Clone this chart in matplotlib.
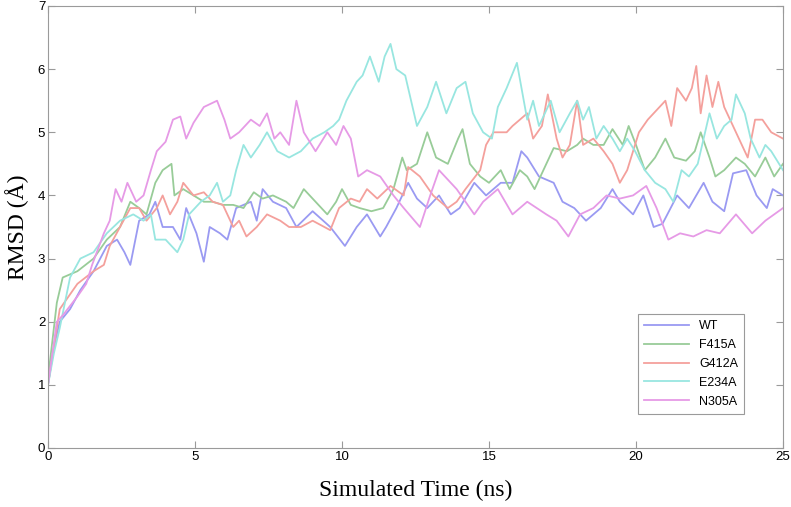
import numpy as np
import matplotlib
matplotlib.use('Agg')
import matplotlib.pyplot as plt

# RMSD traces (time in ns, RMSD in Angstrom)
wt_t = [0, 0.2, 0.4, 0.75, 1.1, 1.55, 2.0, 2.35, 2.6, 2.8, 3.1, 3.45, 3.65, 3.9, 4.25, 4.5, 4.7, 5.05, 5.3, 5.5,
        5.85, 6.1, 6.4, 6.9, 7.1, 7.3, 7.65, 8.1, 8.45, 9.0, 9.6, 10.1, 10.5, 10.85, 11.3, 11.5, 11.85, 12.25, 12.55, 12.9,
        13.3, 13.7, 14.0, 14.5, 14.9, 15.4, 15.8, 16.1, 16.3, 16.7, 17.2, 17.5, 17.9, 18.3, 18.8, 19.2, 19.45, 19.9, 20.25, 20.6,
        20.9, 21.4, 21.8, 22.3, 22.6, 23.0, 23.3, 23.75, 24.1, 24.45, 24.65, 25.0]
wt_v = [1.0, 1.6, 2.0, 2.2, 2.5, 2.8, 3.2, 3.3, 3.1, 2.9, 3.6, 3.7, 3.9, 3.5, 3.5, 3.3, 3.8, 3.4, 2.95, 3.5,
        3.4, 3.3, 3.8, 3.9, 3.6, 4.1, 3.9, 3.8, 3.5, 3.75, 3.5, 3.2, 3.5, 3.7, 3.35, 3.5, 3.8, 4.2, 3.95, 3.8,
        4.0, 3.7, 3.8, 4.2, 4.0, 4.2, 4.2, 4.7, 4.6, 4.3, 4.2, 3.9, 3.8, 3.6, 3.8, 4.1, 3.9, 3.7, 4.0, 3.5,
        3.55, 4.0, 3.8, 4.2, 3.9, 3.75, 4.35, 4.4, 4.0, 3.8, 4.1, 4.0]

f415a_t = [0, 0.3, 0.5, 1.0, 1.55, 2.0, 2.45, 2.8, 3.1, 3.35, 3.65, 3.9, 4.2, 4.3, 4.6, 4.95, 5.3, 5.6, 5.95, 6.3,
           6.65, 7.0, 7.3, 7.65, 8.1, 8.35, 8.7, 9.1, 9.5, 9.8, 10.0, 10.3, 10.6, 11.0, 11.4, 11.75, 12.05, 12.2, 12.55, 12.9,
           13.2, 13.6, 13.95, 14.1, 14.35, 14.7, 15.0, 15.4, 15.7, 16.05, 16.3, 16.55, 16.85, 17.2, 17.65, 18.0, 18.2, 18.55, 18.9, 19.2,
           19.55, 19.75, 20.0, 20.3, 20.65, 21.0, 21.3, 21.7, 22.0, 22.2, 22.5, 22.7, 23.0, 23.4, 23.7, 24.05, 24.4, 24.7, 25.0]
f415a_v = [1.1, 2.3, 2.7, 2.8, 3.0, 3.3, 3.5, 3.9, 3.8, 3.7, 4.2, 4.4, 4.5, 4.0, 4.1, 4.0, 3.9, 3.9, 3.85, 3.85,
           3.8, 4.05, 3.95, 4.0, 3.9, 3.8, 4.1, 3.9, 3.7, 3.9, 4.1, 3.85, 3.8, 3.75, 3.8, 4.1, 4.6, 4.4, 4.5, 5.0,
           4.6, 4.5, 4.9, 5.05, 4.5, 4.3, 4.2, 4.4, 4.1, 4.4, 4.3, 4.1, 4.4, 4.75, 4.7, 4.8, 4.9, 4.8, 4.8, 5.05,
           4.8, 5.1, 4.8, 4.4, 4.6, 4.9, 4.6, 4.55, 4.7, 5.0, 4.6, 4.3, 4.4, 4.6, 4.5, 4.3, 4.6, 4.3, 4.5]

g412a_t = [0, 0.4, 1.0, 1.55, 1.9, 2.1, 2.45, 2.8, 3.1, 3.35, 3.7, 3.9, 4.15, 4.4, 4.6, 4.95, 5.3, 5.6, 5.95, 6.3,
           6.5, 6.75, 7.1, 7.45, 7.9, 8.2, 8.6, 9.0, 9.6, 9.9, 10.3, 10.6, 10.85, 11.2, 11.65, 12.1, 12.25, 12.65, 13.1, 13.6,
           13.9, 14.2, 14.7, 14.9, 15.15, 15.6, 15.8, 16.05, 16.3, 16.5, 16.8, 17.0, 17.3, 17.5, 17.75, 18.0, 18.2, 18.55, 18.9, 19.2,
           19.45, 19.7, 20.1, 20.4, 20.8, 21.0, 21.2, 21.4, 21.7, 21.9, 22.05, 22.2, 22.4, 22.6, 22.8, 23.0, 23.3, 23.6, 23.8, 24.05,
           24.3, 24.6, 25.0]
g412a_v = [1.0, 2.2, 2.6, 2.8, 2.9, 3.2, 3.5, 3.8, 3.8, 3.6, 3.8, 4.0, 3.7, 3.9, 4.2, 4.0, 4.05, 3.9, 3.85, 3.5,
           3.6, 3.35, 3.5, 3.7, 3.6, 3.5, 3.5, 3.6, 3.45, 3.8, 3.95, 3.9, 4.1, 3.95, 4.15, 4.0, 4.45, 4.3, 4.0, 3.8,
           3.9, 4.1, 4.4, 4.8, 5.0, 5.0, 5.1, 5.2, 5.3, 4.9, 5.1, 5.6, 4.9, 4.6, 4.8, 5.5, 4.8, 4.9, 4.7, 4.5,
           4.2, 4.4, 5.0, 5.2, 5.4, 5.5, 5.1, 5.7, 5.5, 5.7, 6.05, 5.3, 5.9, 5.4, 5.8, 5.4, 5.1, 4.8, 4.6, 5.2,
           5.2, 5.0, 4.9]

e234a_t = [0, 0.2, 0.4, 0.75, 1.1, 1.55, 2.0, 2.45, 2.9, 3.25, 3.5, 3.65, 4.0, 4.4, 4.6, 4.8, 5.2, 5.5, 5.75, 5.95,
           6.2, 6.4, 6.65, 6.9, 7.2, 7.45, 7.8, 8.2, 8.6, 9.0, 9.4, 9.7, 9.9, 10.15, 10.5, 10.7, 10.95, 11.25, 11.45, 11.65,
           11.85, 12.15, 12.4, 12.55, 12.9, 13.2, 13.55, 13.9, 14.2, 14.45, 14.8, 15.1, 15.3, 15.6, 15.95, 16.3, 16.5, 16.7, 17.1, 17.4,
           17.75, 18.0, 18.2, 18.4, 18.65, 18.9, 19.2, 19.45, 19.7, 19.97, 20.3, 20.65, 21.0, 21.27, 21.55, 21.8, 22.1, 22.35, 22.5, 22.75,
           23.0, 23.25, 23.4, 23.7, 23.9, 24.2, 24.4, 24.6, 25.0]
e234a_v = [1.0, 1.5, 1.9, 2.7, 3.0, 3.1, 3.4, 3.6, 3.7, 3.6, 3.7, 3.3, 3.3, 3.1, 3.3, 3.7, 3.9, 4.0, 4.2, 3.9,
           4.0, 4.4, 4.8, 4.6, 4.8, 5.0, 4.7, 4.6, 4.7, 4.9, 5.0, 5.1, 5.2, 5.5, 5.8, 5.9, 6.2, 5.8, 6.2, 6.4,
           6.0, 5.9, 5.4, 5.1, 5.4, 5.8, 5.3, 5.7, 5.8, 5.3, 5.0, 4.9, 5.4, 5.7, 6.1, 5.2, 5.5, 5.1, 5.5, 5.0,
           5.3, 5.5, 5.2, 5.4, 4.9, 5.1, 4.9, 4.7, 4.9, 4.7, 4.4, 4.2, 4.1, 3.9, 4.4, 4.3, 4.5, 5.0, 5.3, 4.9,
           5.1, 5.2, 5.6, 5.3, 4.9, 4.6, 4.8, 4.7, 4.4]

n305a_t = [0, 0.3, 0.5, 1.0, 1.3, 1.5, 1.9, 2.1, 2.3, 2.5, 2.7, 3.0, 3.25, 3.5, 3.7, 4.0, 4.25, 4.5, 4.7, 4.95,
           5.3, 5.75, 6.0, 6.2, 6.5, 6.9, 7.2, 7.45, 7.7, 7.9, 8.2, 8.45, 8.7, 9.1, 9.5, 9.8, 10.05, 10.3, 10.55, 10.85,
           11.3, 11.75, 12.1, 12.65, 13.0, 13.3, 13.9, 14.5, 14.8, 15.3, 15.8, 16.3, 16.95, 17.3, 17.7, 18.1, 18.55, 19.0, 19.45, 19.9,
           20.35, 20.7, 21.1, 21.5, 21.95, 22.4, 22.85, 23.4, 23.95, 24.4, 25.0]
n305a_v = [1.0, 2.0, 2.1, 2.4, 2.6, 2.9, 3.4, 3.6, 4.1, 3.9, 4.2, 3.9, 4.0, 4.4, 4.7, 4.85, 5.2, 5.25, 4.9, 5.15,
           5.4, 5.5, 5.2, 4.9, 5.0, 5.2, 5.1, 5.3, 4.9, 5.0, 4.8, 5.5, 5.0, 4.7, 5.0, 4.8, 5.1, 4.9, 4.3, 4.4,
           4.3, 4.0, 3.8, 3.5, 4.0, 4.4, 4.1, 3.7, 3.9, 4.1, 3.7, 3.9, 3.7, 3.6, 3.35, 3.7, 3.8, 4.0, 3.95, 4.0,
           4.15, 3.8, 3.3, 3.4, 3.35, 3.45, 3.4, 3.7, 3.4, 3.6, 3.8]

names = ['WT', 'F415A', 'G412A', 'E234A', 'N305A']
colors = ['#9a9af2', '#98cc98', '#f4a09c', '#98e6e0', '#e69ae6']

fig = plt.figure(figsize=(7.91, 5.07), dpi=100)
ax = fig.add_axes([48/791., 59/507., 735/791., 442/507.])

series = [(wt_t, wt_v), (f415a_t, f415a_v), (g412a_t, g412a_v), (e234a_t, e234a_v), (n305a_t, n305a_v)]
for (t, v), name, c in zip(series, names, colors):
    ax.plot(np.array(t), np.array(v), color=c, lw=1.3, label=name)

ax.set_xlim(0, 25)
ax.set_ylim(0, 7)
ax.set_xticks(np.arange(0, 26, 5))
ax.set_yticks(np.arange(0, 8, 1))

tickfont = ['Liberation Sans Narrow', 'Liberation Sans', 'DejaVu Sans']
for s in ax.spines.values():
    s.set_color('#9a9a9a')
    s.set_linewidth(0.8)
ax.tick_params(direction='in', top=True, right=True, length=5, width=0.8, color='#9a9a9a',
               labelsize=9.5, pad=2)
for lab in ax.get_xticklabels() + ax.get_yticklabels():
    lab.set_family(tickfont)

ax.set_xlabel('Simulated Time (ns)', family='Liberation Serif', fontsize=17, labelpad=12)
ax.set_ylabel('RMSD (\u00c5)', family='Liberation Serif', fontsize=17, labelpad=6)

leg = ax.legend(loc='lower right', bbox_to_anchor=(0.956, 0.063), fancybox=False, framealpha=1,
                edgecolor='#9a9a9a', handlelength=3.6, labelspacing=0.55, borderpad=0.5,
                prop={'family': tickfont, 'size': 9})
leg.get_frame().set_linewidth(0.8)

plt.savefig('out.png', dpi=100)
